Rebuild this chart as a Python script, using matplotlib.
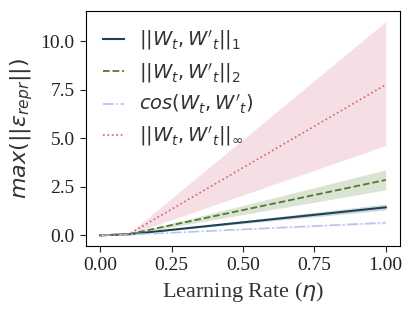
import matplotlib
matplotlib.use('Agg')
import matplotlib.pyplot as plt
import numpy as np

# learning rates and max representation error per distance metric
lr = [0.0, 0.001, 0.01, 0.1, 1.0]

l1_mean = [0.0, 0.0, 0.005, 0.05, 1.44]
l1_lo   = [0.0, 0.0, 0.004, 0.045, 1.30]
l1_hi   = [0.0, 0.0, 0.006, 0.055, 1.61]

l2_mean = [0.0, 0.0, 0.006, 0.06, 2.85]
l2_lo   = [0.0, 0.0, 0.005, 0.05, 2.34]
l2_hi   = [0.0, 0.0, 0.007, 0.07, 3.37]

cos_mean = [0.0, 0.0, 0.003, 0.03, 0.65]
cos_lo   = [0.0, 0.0, 0.002, 0.025, 0.59]
cos_hi   = [0.0, 0.0, 0.004, 0.035, 0.72]

inf_mean = [0.0, 0.0, 0.006, 0.06, 7.75]
inf_lo   = [0.0, 0.0, 0.004, 0.04, 4.62]
inf_hi   = [0.0, 0.0, 0.008, 0.08, 11.0]

labels = [r"$||W_t, W'_t||_1$", r"$||W_t, W'_t||_2$",
          r"$cos(W_t, W'_t)$", r"$||W_t, W'_t||_\infty$"]
colors = ['#1d4256', '#4f7a2c', '#b9c2f2', '#d0607e']
styles = ['-', '--', '-.', ':']
widths = [1.5, 1.3, 1.2, 1.2]

plt.rcParams['font.family'] = ['Liberation Serif', 'DejaVu Serif']
plt.rcParams['mathtext.fontset'] = 'dejavusans'

fig = plt.figure(figsize=(4.15, 3.11), dpi=100)
ax = fig.add_axes([0.207, 0.209, 0.757, 0.756])

series = [(l1_mean, l1_lo, l1_hi), (l2_mean, l2_lo, l2_hi),
          (cos_mean, cos_lo, cos_hi), (inf_mean, inf_lo, inf_hi)]
for (m, lo, hi), lab, c, ls, lw in zip(series, labels, colors, styles, widths):
    ax.plot(lr, m, color=c, linestyle=ls, linewidth=lw, label=lab)
    ax.fill_between(lr, lo, hi, color=c, alpha=0.2, linewidth=0)

ax.set_xticks([0.0, 0.25, 0.5, 0.75, 1.0])
ax.set_xticklabels(['0.00', '0.25', '0.50', '0.75', '1.00'])
ax.set_yticks([0.0, 2.5, 5.0, 7.5, 10.0])
ax.set_yticklabels(['0.0', '2.5', '5.0', '7.5', '10.0'])
ax.tick_params(labelsize=14, length=4.5, colors='#222222', labelcolor='#222222')

ax.set_xlabel(r'Learning Rate ($\eta$)', fontsize=16, color='#333333')
ax.set_ylabel(r'$max(||\epsilon_{repr}||)$', fontsize=16, color='#333333')

leg = ax.legend(loc='upper left', frameon=False, fontsize=14,
                handlelength=1.05, labelspacing=0.42, borderaxespad=0.5)
for t in leg.get_texts():
    t.set_color('#333333')

fig.savefig('out.png', dpi=100)
